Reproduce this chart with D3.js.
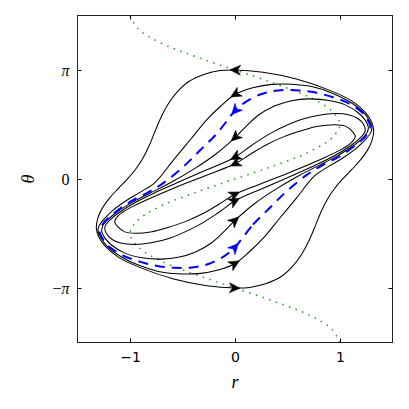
<!DOCTYPE html>
<html>
<head>
<meta charset="utf-8">
<script src="https://cdn.jsdelivr.net/npm/d3@7"></script>
<style>
  body { margin: 0; background: #fff; }
</style>
</head>
<body>
<div id="chart"></div>
<script>
// ticks: r on x, theta (in units of pi) on y
const rTicks = [-1, 0, 1];
const rTickLabels = ["\u22121", "0", "1"];
const thetaTicks = [-1, 0, 1];
const thetaTickLabels = [["\u2212", "\u03c0"], ["", "0"], ["", "\u03c0"]];

// closed orbits, points are [r, theta/pi]
const orbitA = [
  [0,-1.0],[0.14,-0.995],[0.29,-0.962],[0.44,-0.895],[0.55,-0.8],[0.635,-0.69],[0.705,-0.565],[0.765,-0.43],
  [0.82,-0.30],[0.88,-0.185],[0.95,-0.085],[1.03,0.005],[1.115,0.09],[1.195,0.175],[1.262,0.265],[1.305,0.355],
  [1.321,0.446],[1.302,0.52],[1.241,0.612],[1.108,0.719],[0.902,0.813],[0.584,0.917],[0.267,0.979],
  [0,1.0],[-0.14,0.995],[-0.29,0.962],[-0.44,0.895],[-0.55,0.8],[-0.635,0.69],[-0.705,0.565],[-0.765,0.43],
  [-0.82,0.30],[-0.88,0.185],[-0.95,0.085],[-1.03,-0.005],[-1.115,-0.09],[-1.195,-0.175],[-1.262,-0.265],[-1.305,-0.355],
  [-1.321,-0.446],[-1.302,-0.52],[-1.241,-0.612],[-1.108,-0.719],[-0.902,-0.813],[-0.584,-0.917],[-0.267,-0.979]
];
const orbitB = [
  [0,-0.775],[0.14,-0.665],[0.267,-0.545],[0.426,-0.36],[0.585,-0.175],[0.76,0.03],[0.9,0.12],[1.03,0.195],
  [1.16,0.285],[1.25,0.37],[1.295,0.43],[1.305,0.475],[1.28,0.535],[1.215,0.62],[1.08,0.715],[0.92,0.79],
  [0.73,0.848],[0.54,0.87],[0.35,0.868],[0.16,0.835],
  [0,0.775],[-0.14,0.665],[-0.267,0.545],[-0.426,0.36],[-0.585,0.175],[-0.76,-0.03],[-0.9,-0.12],[-1.03,-0.195],
  [-1.16,-0.285],[-1.25,-0.37],[-1.295,-0.43],[-1.305,-0.475],[-1.28,-0.535],[-1.215,-0.62],[-1.08,-0.715],[-0.92,-0.79],
  [-0.73,-0.848],[-0.54,-0.87],[-0.35,-0.868],[-0.16,-0.835]
];
const orbitC = [
  [0,-0.38],[0.188,-0.225],[0.378,-0.1],[0.616,0.035],[0.8,0.125],[0.97,0.21],[1.12,0.30],[1.22,0.38],
  [1.26,0.43],[1.27,0.475],[1.24,0.54],[1.17,0.61],[1.05,0.68],[0.9,0.72],[0.7,0.735],[0.54,0.718],
  [0.381,0.672],[0.222,0.585],[0.092,0.47],
  [0,0.38],[-0.188,0.225],[-0.378,0.1],[-0.616,-0.035],[-0.8,-0.125],[-0.97,-0.21],[-1.12,-0.30],[-1.22,-0.38],
  [-1.26,-0.43],[-1.27,-0.475],[-1.24,-0.54],[-1.17,-0.61],[-1.05,-0.68],[-0.9,-0.72],[-0.7,-0.735],[-0.54,-0.718],
  [-0.381,-0.672],[-0.222,-0.585],[-0.092,-0.47]
];
const orbitD = [
  [0,-0.2],[0.28,-0.08],[0.552,0.035],[0.75,0.12],[0.95,0.215],[1.1,0.305],[1.2,0.385],[1.24,0.44],
  [1.225,0.50],[1.17,0.555],[1.08,0.59],[0.95,0.60],[0.8,0.585],[0.63,0.545],[0.36,0.43],[0.16,0.31],
  [0,0.2],[-0.28,0.08],[-0.552,-0.035],[-0.75,-0.12],[-0.95,-0.215],[-1.1,-0.305],[-1.2,-0.385],[-1.24,-0.44],
  [-1.225,-0.50],[-1.17,-0.555],[-1.08,-0.59],[-0.95,-0.60],[-0.8,-0.585],[-0.63,-0.545],[-0.36,-0.43],[-0.16,-0.31]
];
const orbitE = [
  [0,-0.14],[0.23,-0.05],[0.457,0.035],[0.635,0.105],[0.85,0.195],[1.0,0.265],[1.07,0.305],[1.115,0.34],
  [1.145,0.39],[1.115,0.44],[1.05,0.485],[0.95,0.498],[0.79,0.483],[0.64,0.445],[0.473,0.391],[0.3,0.315],[0.15,0.23],
  [0,0.14],[-0.23,0.05],[-0.457,-0.035],[-0.635,-0.105],[-0.85,-0.195],[-1.0,-0.265],[-1.07,-0.305],[-1.115,-0.34],
  [-1.145,-0.39],[-1.115,-0.44],[-1.05,-0.485],[-0.95,-0.498],[-0.79,-0.483],[-0.64,-0.445],[-0.473,-0.391],[-0.3,-0.315],[-0.15,-0.23]
];
// blue dashed orbit
const orbitBlue = [
  [0,-0.625],[0.171,-0.419],[0.33,-0.266],[0.49,-0.114],[0.68,0.035],[0.823,0.12],[1.0,0.21],[1.16,0.32],
  [1.25,0.40],[1.29,0.475],[1.265,0.54],[1.2,0.62],[1.07,0.70],[0.9,0.76],[0.73,0.80],[0.57,0.815],
  [0.41,0.812],[0.254,0.78],[0.095,0.703],
  [0,0.625],[-0.171,0.419],[-0.33,0.266],[-0.49,0.114],[-0.68,-0.035],[-0.823,-0.12],[-1.0,-0.21],[-1.16,-0.32],
  [-1.25,-0.40],[-1.29,-0.475],[-1.265,-0.54],[-1.2,-0.62],[-1.07,-0.70],[-0.9,-0.76],[-0.73,-0.80],[-0.57,-0.815],
  [-0.41,-0.812],[-0.254,-0.78],[-0.095,-0.703]
];
// green dotted curve
const nullcline = [
  [1.0,-1.5],[0.92,-1.375],[0.71,-1.25],[0.38,-1.125],[0,-1.0],[-0.38,-0.875],[-0.71,-0.75],[-0.92,-0.625],
  [-1.0,-0.5],[-0.92,-0.375],[-0.71,-0.25],[-0.38,-0.125],[0,0],[0.38,0.125],[0.71,0.25],[0.92,0.375],
  [1.0,0.5],[0.92,0.625],[0.71,0.75],[0.38,0.875],[0,1.0],[-0.38,1.125],[-0.71,1.25],[-0.92,1.375],[-1.0,1.5]
];

const layout = {
  width: 409,
  height: 409,
  left: 77.5,
  top: 15.5,
  plotWidth: 315,
  plotHeight: 327
};

const svg = d3.select("#chart").append("svg")
  .attr("width", layout.width)
  .attr("height", layout.height);

const xScale = d3.scaleLinear()
  .domain([-1.5, 1.5])
  .range([layout.left, layout.left + layout.plotWidth]);
const yScale = d3.scaleLinear()
  .domain([-1.5, 1.5])
  .range([layout.top + layout.plotHeight, layout.top]);

svg.append("clipPath").attr("id", "plot-clip")
  .append("rect")
  .attr("x", layout.left).attr("y", layout.top)
  .attr("width", layout.plotWidth).attr("height", layout.plotHeight);

const plot = svg.append("g").attr("clip-path", "url(#plot-clip)");

// green dotted
plot.append("path")
  .datum(nullcline)
  .attr("fill", "none")
  .attr("stroke", "#1f9a1f")
  .attr("stroke-width", 1.5)
  .attr("stroke-dasharray", "1.5,5.5")
  .attr("d", d3.line()
    .x(d => xScale(d[0]))
    .y(d => yScale(d[1]))
    .curve(d3.curveCatmullRom.alpha(0.5)));

const orbitLine = d3.line()
  .x(d => xScale(d[0]))
  .y(d => yScale(d[1]))
  .curve(d3.curveCatmullRomClosed.alpha(0.5));

const orbits = [orbitA, orbitB, orbitC, orbitD, orbitE];
orbits.forEach(o => {
  plot.append("path")
    .datum(o)
    .attr("fill", "none")
    .attr("stroke", "black")
    .attr("stroke-width", 1.05)
    .attr("d", orbitLine);
});

plot.append("path")
  .datum(orbitBlue)
  .attr("fill", "none")
  .attr("stroke", "#0000ff")
  .attr("stroke-width", 2)
  .attr("stroke-dasharray", "10,7")
  .attr("d", orbitLine);

// arrowheads where each orbit crosses r = 0
function drawArrows(orbit, color) {
  const n = orbit.length;
  orbit.forEach((p, i) => {
    if (p[0] !== 0) return;
    const prev = orbit[(i - 1 + n) % n];
    const next = orbit[(i + 1) % n];
    const ang = Math.atan2(yScale(next[1]) - yScale(prev[1]), xScale(next[0]) - xScale(prev[0])) * 180 / Math.PI;
    plot.append("path")
      .attr("d", "M5,0 L-5.5,-5 L-2.5,0 L-5.5,5 Z")
      .attr("fill", color)
      .attr("stroke", color)
      .attr("stroke-width", 0.6)
      .attr("stroke-linejoin", "miter")
      .attr("transform", `translate(${xScale(p[0])},${yScale(p[1])}) rotate(${ang})`);
  });
}
orbits.forEach(o => drawArrows(o, "black"));
drawArrows(orbitBlue, "#0000ff");

// axes with inward ticks on all sides
let xAxis = svg.append("g")
  .attr("transform", `translate(0,${layout.top + layout.plotHeight})`)
  .call(d3.axisBottom(xScale).tickValues(rTicks).tickSizeInner(-4).tickSizeOuter(0).tickPadding(10)
    .tickFormat((d, i) => rTickLabels[i]));
xAxis.select(".domain").remove();
xAxis.selectAll("line").attr("stroke", "black");
xAxis.selectAll("text")
  .attr("font-family", "'DejaVu Sans', sans-serif")
  .attr("font-size", 14)
  .attr("fill", "black");

let xAxisTop = svg.append("g")
  .attr("transform", `translate(0,${layout.top})`)
  .call(d3.axisTop(xScale).tickValues(rTicks).tickSizeInner(-4).tickSizeOuter(0).tickFormat(""));
xAxisTop.select(".domain").remove();
xAxisTop.selectAll("line").attr("stroke", "black");

let yAxis = svg.append("g")
  .attr("transform", `translate(${layout.left},0)`)
  .call(d3.axisLeft(yScale).tickValues(thetaTicks).tickSizeInner(-4).tickSizeOuter(0).tickPadding(8)
    .tickFormat(""));
yAxis.select(".domain").remove();
yAxis.selectAll("line").attr("stroke", "black");
yAxis.selectAll(".tick text").each(function(d, i) {
  const t = d3.select(this)
    .attr("font-family", "'Liberation Serif', 'DejaVu Serif', serif")
    .attr("font-size", 16)
    .attr("fill", "black");
  const parts = thetaTickLabels[i];
  if (parts[0]) t.append("tspan").text(parts[0]);
  t.append("tspan")
    .attr("font-style", parts[1] === "0" ? "normal" : "italic")
    .text(parts[1]);
});

let yAxisRight = svg.append("g")
  .attr("transform", `translate(${layout.left + layout.plotWidth},0)`)
  .call(d3.axisRight(yScale).tickValues(thetaTicks).tickSizeInner(-4).tickSizeOuter(0).tickFormat(""));
yAxisRight.select(".domain").remove();
yAxisRight.selectAll("line").attr("stroke", "black");

// frame
svg.append("rect")
  .attr("x", layout.left).attr("y", layout.top)
  .attr("width", layout.plotWidth).attr("height", layout.plotHeight)
  .attr("fill", "none")
  .attr("stroke", "#222")
  .attr("stroke-width", 1);

// axis titles
svg.append("text")
  .attr("x", xScale(0))
  .attr("y", 388)
  .attr("text-anchor", "middle")
  .attr("font-family", "'Liberation Serif', 'DejaVu Serif', serif")
  .attr("font-style", "italic")
  .attr("font-size", 18)
  .text("r");

svg.append("text")
  .attr("transform", `translate(34,${yScale(0)}) rotate(-90)`)
  .attr("text-anchor", "middle")
  .attr("font-family", "'Liberation Serif', 'DejaVu Serif', serif")
  .attr("font-style", "italic")
  .attr("font-size", 18)
  .text("\u03b8");
</script>
</body>
</html>
